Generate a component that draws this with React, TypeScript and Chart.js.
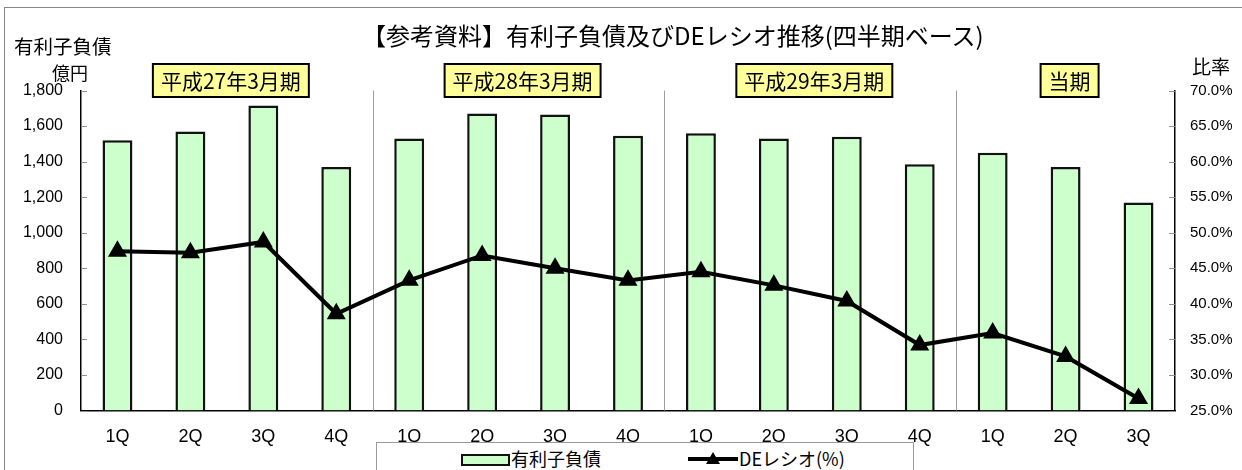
import React, { useEffect, useRef } from "react";
import { Chart, registerables } from "chart.js";

Chart.register(...registerables);

const categories = ["1Q", "2Q", "3Q", "4Q", "1Q", "2Q", "3Q", "4Q", "1Q", "2Q", "3Q", "4Q", "1Q", "2Q", "3Q"];
const debtValues = [1520, 1570, 1715, 1370, 1530, 1670, 1665, 1545, 1560, 1530, 1540, 1385, 1450, 1370, 1170];
const deRatio = [47.4, 47.2, 48.7, 38.6, 43.3, 46.8, 45.0, 43.3, 44.5, 42.6, 40.4, 34.2, 35.9, 32.6, 26.7];
const groupLabels = ["平成27年3月期", "平成28年3月期", "平成29年3月期", "当期"];
const groupStarts = [0, 4, 8, 12];
const groupEnds = [3, 7, 11, 14];

const title = "【参考資料】有利子負債及びDEレシオ推移(四半期ベース)";
const leftTitle1 = "有利子負債";
const leftTitle2 = "億円";
const rightTitle = "比率";
const barLabel = "有利子負債";
const lineLabel = "DEレシオ(%)";

const JP = '"Noto Sans CJK JP", "Liberation Sans", sans-serif';
const LAT = 'Arial, "Liberation Sans", sans-serif';

const overlayPlugin = {
  id: "overlay",
  beforeDatasetsDraw(chart: any) {
    const { ctx, chartArea, scales } = chart;
    const x = scales.x;
    ctx.save();
    ctx.strokeStyle = "#a0a0a0";
    ctx.lineWidth = 1;
    for (let i = 0; i < groupEnds.length - 1; i++) {
      const px = Math.round(x.getPixelForValue(groupEnds[i] + 0.5)) + 0.5;
      ctx.beginPath();
      ctx.moveTo(px, chartArea.top);
      ctx.lineTo(px, chartArea.bottom);
      ctx.stroke();
    }
    ctx.strokeStyle = "#909090";
    scales.y.ticks.forEach((t: any) => {
      const py = Math.round(scales.y.getPixelForValue(t.value)) + 0.5;
      ctx.beginPath();
      ctx.moveTo(chartArea.left, py);
      ctx.lineTo(chartArea.left + 6, py);
      ctx.stroke();
    });
    scales.y2.ticks.forEach((t: any) => {
      const py = Math.round(scales.y2.getPixelForValue(t.value)) + 0.5;
      ctx.beginPath();
      ctx.moveTo(chartArea.right - 6, py);
      ctx.lineTo(chartArea.right, py);
      ctx.stroke();
    });
    ctx.restore();
  },
  afterDraw(chart: any) {
    const { ctx, scales } = chart;
    const x = scales.x;
    ctx.save();
    ctx.font = `21px ${JP}`;
    ctx.textAlign = "center";
    ctx.textBaseline = "middle";
    for (let i = 0; i < groupLabels.length; i++) {
      const cx = (x.getPixelForValue(groupStarts[i] - 0.5) + x.getPixelForValue(groupEnds[i] + 0.5)) / 2 + 4;
      const w = ctx.measureText(groupLabels[i]).width + 16;
      const h = 33;
      const top = 64;
      ctx.fillStyle = "#ffff99";
      ctx.fillRect(cx - w / 2, top, w, h);
      ctx.strokeStyle = "#000";
      ctx.lineWidth = 2;
      ctx.strokeRect(cx - w / 2, top, w, h);
      ctx.fillStyle = "#000";
      ctx.fillText(groupLabels[i], cx, top + h / 2 + 1);
    }
    ctx.restore();
  },
};

export default function App() {
  const canvasRef = useRef<HTMLCanvasElement | null>(null);

  useEffect(() => {
    document.body.style.margin = "0";
    const canvas = canvasRef.current;
    if (!canvas) return;
    const chart = new Chart(canvas, {
      type: "bar",
      data: {
        labels: categories,
        datasets: [
          {
            type: "bar",
            label: barLabel,
            data: debtValues,
            backgroundColor: "#ccffcc",
            borderColor: "#111",
            borderWidth: 2.5,
            yAxisID: "y",
            order: 1,
            barPercentage: 0.41,
            categoryPercentage: 1,
          },
          {
            type: "line",
            label: lineLabel,
            data: deRatio,
            borderColor: "#000",
            backgroundColor: "#000",
            borderWidth: 4,
            pointStyle: "triangle",
            pointRadius: 7,
            pointBackgroundColor: "#000",
            pointBorderColor: "#000",
            yAxisID: "y2",
            order: 0,
            tension: 0,
          },
        ],
      },
      options: {
        responsive: false,
        animation: false,
        devicePixelRatio: 1,
        layout: { padding: { top: 90.5, left: 0, right: 0, bottom: 0 } },
        plugins: {
          legend: { display: false },
          tooltip: { enabled: false },
          title: { display: false },
        },
        scales: {
          x: {
            grid: { display: false, drawTicks: false },
            border: { display: true, color: "#000", width: 1.5 },
            ticks: { color: "#000", font: { family: LAT, size: 18 }, padding: 16 },
            afterFit: (s: any) => {
              s.height = 59.5;
            },
          },
          y: {
            position: "left",
            min: 0,
            max: 1800,
            grid: { display: false, drawTicks: false },
            border: { display: true, color: "#000", width: 1.5 },
            ticks: {
              stepSize: 200,
              color: "#000",
              font: { family: LAT, size: 16 },
              padding: 18,
              callback: (v: any) => Number(v).toLocaleString("en-US"),
            },
            afterFit: (s: any) => {
              s.width = 81;
            },
          },
          y2: {
            position: "right",
            min: 25,
            max: 70,
            grid: { display: false, drawTicks: false },
            border: { display: true, color: "#000", width: 1.5 },
            ticks: {
              stepSize: 5,
              color: "#000",
              font: { family: LAT, size: 15 },
              padding: 15,
              callback: (v: any) => Number(v).toFixed(1) + "%",
            },
            afterFit: (s: any) => {
              s.width = 67;
            },
          },
        },
      },
      plugins: [overlayPlugin],
    });
    return () => chart.destroy();
  }, []);

  const abs = (l: number, t: number, extra: any = {}) => ({
    position: "absolute" as const,
    left: l,
    top: t,
    whiteSpace: "nowrap" as const,
    lineHeight: 1,
    color: "#000",
    ...extra,
  });

  return (
    <div style={{ position: "relative", width: 1242, height: 470, overflow: "hidden", background: "#fff", fontFamily: JP }}>
      <div style={{ position: "absolute", left: 4, top: 7, width: 1300, height: 600, borderTop: "1px solid #888", borderLeft: "1px solid #888" }} />
      <canvas ref={canvasRef} width={1242} height={470} style={{ position: "absolute", left: 0, top: 0 }} />
      <div style={abs(362, 23, { fontSize: 24 })}>{title}</div>
      <div style={abs(14, 36, { fontSize: 19.5 })}>{leftTitle1}</div>
      <div style={abs(52, 63, { fontSize: 18 })}>{leftTitle2}</div>
      <div style={abs(1192, 56, { fontSize: 19 })}>{rightTitle}</div>
      <div style={{ position: "absolute", left: 376, top: 442, width: 536, height: 60, border: "1px solid #999", background: "#fff" }}>
        <div style={{ position: "absolute", left: 84, top: 11, width: 45, height: 8, background: "#ccffcc", border: "2px solid #111" }} />
        <div style={abs(134, 6, { fontSize: 18 })}>{barLabel}</div>
        <div style={{ position: "absolute", left: 311, top: 14, width: 50, height: 4, background: "#000" }} />
        <div style={{ position: "absolute", left: 329, top: 9, width: 0, height: 0, borderLeft: "7px solid transparent", borderRight: "7px solid transparent", borderBottom: "12px solid #000" }} />
        <div style={abs(362, 6, { fontSize: 18 })}>{lineLabel}</div>
      </div>
    </div>
  );
}
